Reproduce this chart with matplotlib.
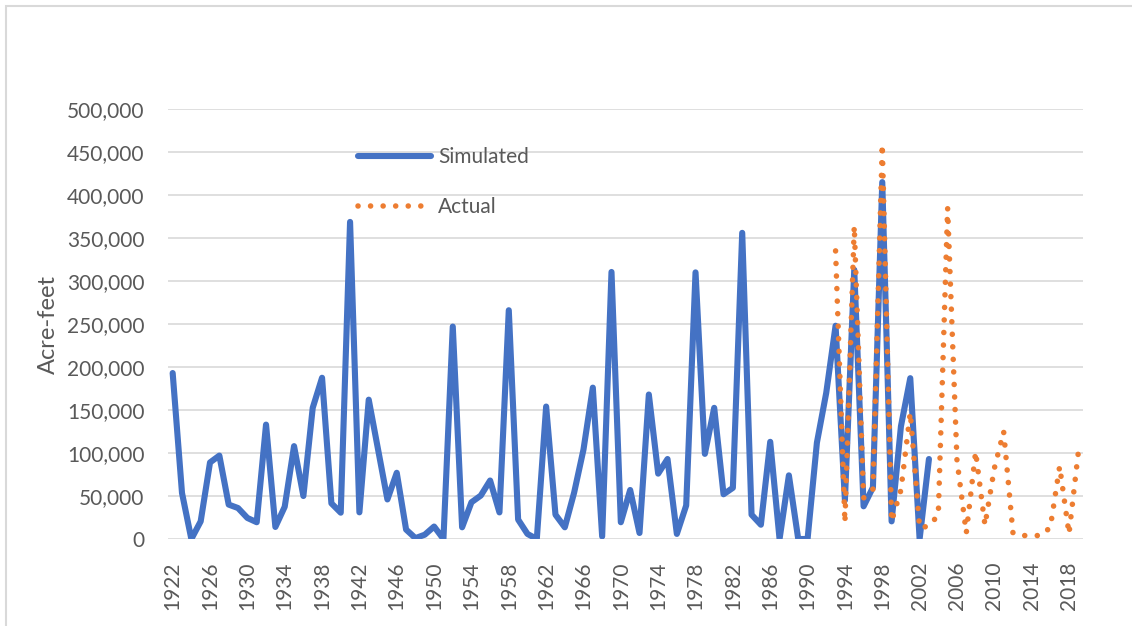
"""Simulated vs actual annual volume (acre-feet), 1922-2019."""
import numpy as np
import matplotlib
matplotlib.use("Agg")
import matplotlib.pyplot as plt
from matplotlib.patches import Rectangle
from matplotlib.ticker import FuncFormatter

plt.rcParams.update({"font.family": ["Lato", "DejaVu Sans"]})

years = list(range(1922, 2020))
sim_years = list(range(1922, 2004))
act_years = list(range(1993, 2020))

simulated = [193000, 53500, 0, 20500, 89000, 97000, 40000, 36000, 24500, 19500,
             133000, 14000, 37500, 108000, 50000, 152500, 187500, 41500, 30600, 368700,
             31000, 162000, 104000, 46000, 77000, 11000, 1000, 5000, 14500, 0,
             247000, 13600, 42700, 50500, 68000, 30900, 266000, 22600, 5900, 0,
             154000, 28300, 13600, 54000, 104000, 176000, 3000, 310500, 19500, 57000,
             7000, 168000, 76000, 93000, 5900, 39000, 310000, 99000, 152500, 52000,
             59500, 356000, 28300, 16600, 113000, 0, 74000, 0, 0, 112000,
             170000, 248000, 45000, 313000, 38000, 60000, 415000, 20500, 131000, 187000,
             0, 93000]
actual = [335000, 19000, 364000, 47700, 58000, 459000, 20500, 57000, 147000, 13000,
          15000, 28000, 385000, 92000, 7000, 101500, 16000, 82000, 125000, 7000,
          4000, 4000, 4000, 13500, 84500, 6000, 101000]

BLUE, ORANGE, GRID, TXT = "#4472C4", "#ED7D31", "#D9D9D9", "#595959"

fig = plt.figure(figsize=(11.32, 6.26), dpi=100)
ax = fig.add_axes([168 / 1132, 1 - 539 / 626, 915 / 1132, 430 / 626])

# chart-area border (only top/left fall inside the picture)
fig.patches.append(Rectangle((6 / 1132, -0.1), 1.2, 1 - 6 / 626 + 0.1,
                             transform=fig.transFigure, fill=False,
                             edgecolor=GRID, lw=1.5))

xi = {y: i for i, y in enumerate(years)}
ax.plot([xi[y] for y in sim_years], simulated, color=BLUE, lw=4.4,
        solid_joinstyle="round", solid_capstyle="round", label="Simulated", zorder=3)
ax.plot([xi[y] for y in act_years], actual, color=ORANGE, lw=4.0,
        linestyle=(0, (0.01, 2.25)), dash_capstyle="round", label="Actual", zorder=4)

ax.set_xlim(-0.5, len(years) - 0.5)
ax.set_ylim(0, 500000)
ax.set_yticks(np.arange(0, 500001, 50000))
ax.yaxis.set_major_formatter(FuncFormatter(lambda v, p: f"{v:,.0f}"))
ax.set_xticks([xi[y] for y in years[::4]])
ax.set_xticklabels([str(y) for y in years[::4]], rotation=90)
ax.tick_params(length=0, labelsize=15, colors=TXT)
ax.tick_params(axis="y", pad=17)
ax.tick_params(axis="x", pad=16)
ax.grid(axis="y", color=GRID, lw=1.2)
ax.set_axisbelow(True)
for s in ax.spines.values():
    s.set_visible(False)
ax.set_ylabel("Acre-feet", fontsize=17, color=TXT, labelpad=6)

leg = ax.legend(loc="upper left", bbox_to_anchor=(190 / 915, 1 - 38 / 430),
                frameon=False, fontsize=15, handlelength=3.5, handletextpad=0.35,
                labelspacing=1.45, borderpad=0, borderaxespad=0)
for t in leg.get_texts():
    t.set_color(TXT)

fig.savefig("out.png", dpi=100, facecolor="white")
